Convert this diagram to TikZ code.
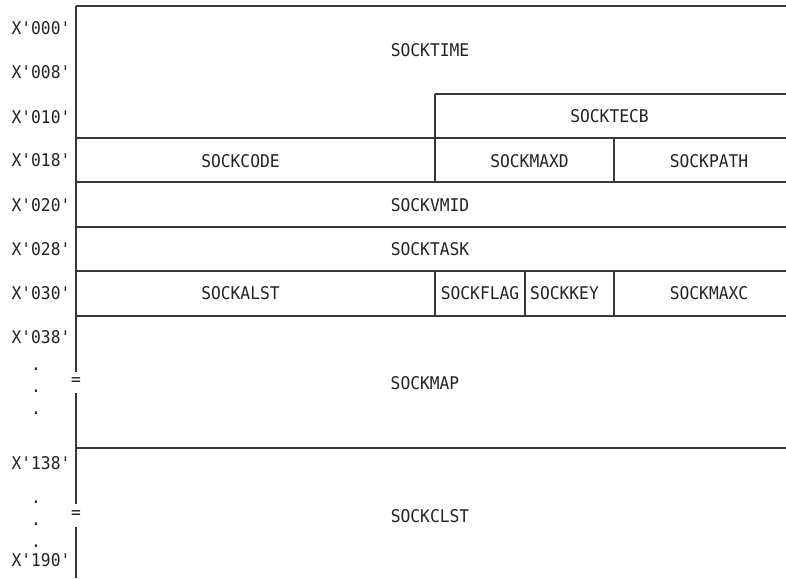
\documentclass[tikz,border=0pt]{standalone}
\usepackage{xcolor}
\usepackage{fontspec}
\usepackage{tikz}
\usetikzlibrary{
  positioning,
  calc
}
\newfontfamily\fieldfont[FakeStretch=0.93]{DejaVu Sans Mono}
\definecolor{ruleink}{RGB}{56,56,56}
\definecolor{textink}{RGB}{34,34,34}
\tikzset{
  fieldname/.style={
    inner sep=0pt, text=textink,
    font=\fieldfont\fontsize{17.5}{20}\selectfont
  },
  offlabel/.style={
    inner sep=0pt, text=textink,
    font=\fieldfont\fontsize{17.5}{20}\selectfont
  },
  ruleline/.style={
    draw=ruleink, line width=1.1pt
  }
}

\begin{document}
\begin{tikzpicture}[x=1pt, y=-1pt]

    \useasboundingbox (0,0) rectangle (786,578);

    % outer frame and rows
    \draw[ruleline] (76,6) -- (786,6);
    \draw[ruleline] (76,6) -- (76,372);
    \draw[ruleline] (76,393) -- (76,504);
    \draw[ruleline] (76,527) -- (76,578);
    \draw[ruleline] (435,94) -- (786,94);
    \foreach \y in {138,182,227,271,316,448}
      \draw[ruleline] (76,\y) -- (786,\y);

    % column dividers
    \draw[ruleline] (435,94) -- (435,182);
    \draw[ruleline] (614,138) -- (614,182);
    \foreach \x in {435,525,614}
      \draw[ruleline] (\x,271) -- (\x,316);

    % fields
    \node[fieldname] (time) at (430,50) {SOCKTIME};
    \node[fieldname] (tecb) at (609.5,116) {SOCKTECB};
    \node[fieldname] (code) at (240.5,161) {SOCKCODE};
    \node[fieldname] (maxd) at (529.5,161) {SOCKMAXD};
    \node[fieldname] (path) at (709,161) {SOCKPATH};
    \node[fieldname] (vmid) at (430,205) {SOCKVMID};
    \node[fieldname] (task) at (430,249) {SOCKTASK};
    \node[fieldname] (alst) at (240.5,293) {SOCKALST};
    \node[fieldname] (flag) at (480,293) {SOCKFLAG};
    \node[fieldname] (key) at (564.5,293) {SOCKKEY};
    \node[fieldname] (maxc) at (709,293) {SOCKMAXC};
    \node[fieldname] (map) at (425,383) {SOCKMAP};
    \node[fieldname] (clst) at (430,516) {SOCKCLST};

    % breaks in the left edge
    \node[fieldname] (brk1) at (76,382) {=};
    \node[fieldname] (brk2) at (76,515) {=};

    % offsets
    \node[offlabel] (o000) at (41,28) {X'000'};
    \node[offlabel] (o008) at (41,72) {X'008'};
    \node[offlabel] (o010) at (41,117) {X'010'};
    \node[offlabel] (o018) at (41,160) {X'018'};
    \node[offlabel] (o020) at (41,205) {X'020'};
    \node[offlabel] (o028) at (41,249) {X'028'};
    \node[offlabel] (o030) at (41,293) {X'030'};
    \node[offlabel] (o038) at (41,337) {X'038'};
    \node[offlabel] (o138) at (41,463) {X'138'};
    \node[offlabel] (o190) at (41,560) {X'190'};
    \foreach \y [count=\i] in {369,391,413,502,524,546}
      \node[offlabel] (dot\i) at (36,\y) {.};

\end{tikzpicture}
\end{document}
